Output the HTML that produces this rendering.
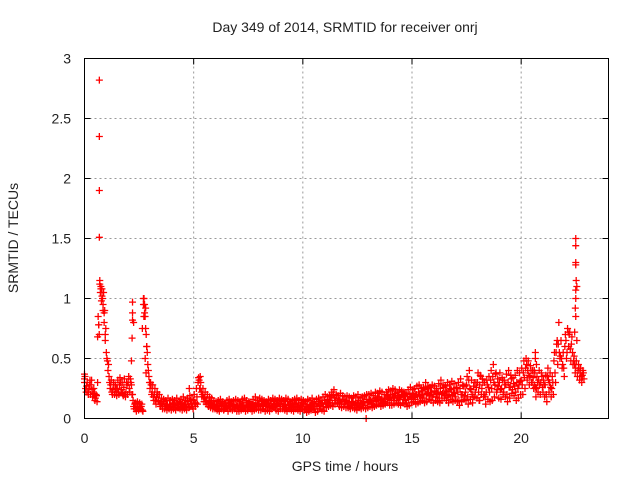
<!DOCTYPE html>
<html><head><meta charset="utf-8"><style>
body{margin:0;background:#fff}
svg text{font-family:"Liberation Sans",sans-serif;font-size:14px;fill:#222}
</style></head><body>
<svg id="chart" width="640" height="480" xmlns="http://www.w3.org/2000/svg">
<text x="345" y="32" text-anchor="middle">Day 349 of 2014, SRMTID for receiver onrj</text>
<text x="345" y="471" text-anchor="middle">GPS time / hours</text>
<text x="18" y="238" text-anchor="middle" transform="rotate(-90 18 238)">SRMTID / TECUs</text>
<g id="grid"></g><g id="ticks"></g><g id="marks"></g>
<rect x="84.5" y="58.5" width="524" height="360" fill="none" stroke="#000" stroke-width="1"/>
</svg>
<script>
const xTicks=[0,5,10,15,20];
const yTicks=[0,0.5,1,1.5,2,2.5,3];
const yTickLabels=["0","0.5","1","1.5","2","2.5","3"];
const valsA=[0.30,0.27,0.25,0.28,0.20,0.17,0.30,1.12,1.08,0.80,
0.55,0.45,0.28,0.24,0.22,0.25,0.28,0.24,0.26,0.22,
0.30,0.33,0.20,0.12,0.09,0.08,0.10,0.95,0.75,0.45,
0.25,0.22,0.20,0.18,0.15,0.13,0.12,0.10,0.11,0.12,
0.10,0.12,0.11,0.09,0.13,0.10,0.12,0.14,0.10,0.12,
0.15,0.13,0.30,0.25,0.20,0.17,0.15,0.14,0.13,0.10,
0.09,0.11,0.10,0.12,0.08,0.10,0.11,0.12,0.10,0.09,
0.10,0.12,0.09,0.11,0.13,0.10,0.08,0.12,0.11,0.10,
0.12,0.14,0.11,0.10,0.13,0.09,0.10,0.12,0.11,0.13,
0.12,0.10,0.11,0.14,0.12,0.09,0.10,0.12,0.13,0.11,
0.10,0.08,0.12,0.09,0.11,0.10,0.12,0.14,0.11,0.13,
0.15,0.12,0.13,0.18,0.20,0.15,0.13,0.16,0.14,0.12,
0.15,0.13,0.11,0.14,0.12,0.13,0.10,0.12,0.14,0.16,
0.14,0.15,0.12,0.17,0.15,0.18,0.16,0.14,0.17,0.19,
0.18,0.20,0.17,0.15,0.19,0.18,0.16,0.15,0.18,0.20,
0.17,0.19,0.20,0.22,0.18,0.20,0.24,0.21,0.19,0.22,
0.20,0.18,0.22,0.25,0.21,0.19,0.23,0.20,0.24,0.22,
0.18,0.22,0.25,0.20,0.19,0.28,0.32,0.24,0.18,0.22,
0.30,0.28,0.25,0.20,0.22,0.26,0.32,0.35,0.28,0.24,
0.30,0.25,0.22,0.28,0.30,0.26,0.24,0.27,0.30,0.28,
0.32,0.38,0.42,0.40,0.35,0.30,0.28,0.25,0.32,0.30,
0.22,0.28,0.35,0.30,0.25,0.48,0.55,0.62,0.52,0.45,
0.60,0.55,0.70,0.62,0.48,0.42,0.40,0.38,0.36];
const valsB=[0.25,0.22,0.32,0.24,0.21,0.19,0.78,1.10,0.95,0.65,
0.48,0.30,0.22,0.28,0.25,0.22,0.30,0.21,0.20,0.28,
0.25,0.28,0.10,0.08,0.12,0.10,0.07,0.88,0.60,0.35,
0.28,0.18,0.15,0.20,0.12,0.10,0.14,0.12,0.09,0.10,
0.13,0.09,0.12,0.14,0.10,0.11,0.09,0.12,0.15,0.10,
0.12,0.18,0.32,0.22,0.18,0.14,0.12,0.15,0.11,0.12,
0.12,0.08,0.13,0.10,0.11,0.09,0.13,0.10,0.12,0.11,
0.08,0.10,0.13,0.09,0.11,0.12,0.10,0.09,0.13,0.12,
0.10,0.11,0.13,0.12,0.09,0.11,0.14,0.10,0.12,0.10,
0.14,0.12,0.09,0.11,0.10,0.13,0.12,0.10,0.09,0.13,
0.12,0.10,0.09,0.11,0.13,0.08,0.10,0.11,0.13,0.10,
0.12,0.16,0.15,0.13,0.17,0.19,0.15,0.12,0.16,0.14,
0.13,0.10,0.14,0.12,0.11,0.15,0.13,0.14,0.11,0.13,
0.16,0.12,0.15,0.14,0.18,0.15,0.13,0.17,0.20,0.16,
0.15,0.17,0.21,0.18,0.16,0.20,0.19,0.13,0.16,0.18,
0.21,0.16,0.18,0.19,0.23,0.17,0.20,0.25,0.22,0.18,
0.23,0.21,0.17,0.20,0.26,0.22,0.18,0.25,0.19,0.21,
0.25,0.15,0.20,0.27,0.22,0.18,0.25,0.20,0.30,0.26,
0.22,0.35,0.30,0.18,0.28,0.22,0.25,0.30,0.38,0.27,
0.24,0.32,0.28,0.20,0.26,0.33,0.29,0.22,0.25,0.31,
0.28,0.34,0.45,0.36,0.40,0.34,0.26,0.30,0.28,0.35,
0.28,0.20,0.32,0.26,0.30,0.38,0.65,0.55,0.50,0.42,
0.65,0.72,0.58,0.55,0.45,1.10,0.42,0.35,0.38];
const valsC=[0.35,0.30,0.28,0.32,0.25,0.20,0.85,1.05,1.00,0.90,
0.50,0.35,0.32,0.30,0.28,0.32,0.34,0.30,0.33,0.30,
0.35,0.30,0.15,0.13,0.14,0.13,0.12,1.00,0.70,0.40,
0.30,0.28,0.25,0.22,0.20,0.17,0.16,0.15,0.17,0.15,
0.16,0.15,0.17,0.14,0.16,0.18,0.15,0.17,0.19,0.16,
0.20,0.25,0.34,0.30,0.25,0.22,0.20,0.18,0.17,0.15,
0.14,0.15,0.16,0.14,0.13,0.15,0.16,0.14,0.15,0.16,
0.15,0.14,0.16,0.17,0.15,0.14,0.13,0.16,0.18,0.15,
0.17,0.16,0.15,0.14,0.16,0.15,0.17,0.16,0.15,0.17,
0.16,0.15,0.17,0.16,0.14,0.15,0.16,0.17,0.15,0.16,
0.15,0.14,0.16,0.15,0.17,0.14,0.16,0.17,0.15,0.18,
0.20,0.18,0.19,0.22,0.24,0.20,0.19,0.21,0.19,0.18,
0.19,0.18,0.17,0.19,0.18,0.20,0.17,0.18,0.19,0.20,
0.20,0.21,0.19,0.22,0.21,0.23,0.22,0.20,0.22,0.24,
0.23,0.25,0.24,0.22,0.24,0.23,0.22,0.21,0.24,0.26,
0.24,0.25,0.27,0.28,0.25,0.26,0.30,0.27,0.26,0.28,
0.27,0.25,0.29,0.32,0.28,0.27,0.30,0.28,0.31,0.29,
0.26,0.30,0.33,0.28,0.27,0.35,0.40,0.32,0.27,0.30,
0.38,0.36,0.33,0.30,0.32,0.35,0.40,0.45,0.37,0.33,
0.38,0.34,0.32,0.37,0.40,0.36,0.34,0.36,0.40,0.38,
0.42,0.48,0.50,0.48,0.44,0.40,0.38,0.35,0.40,0.38,
0.32,0.36,0.42,0.38,0.35,0.55,0.62,0.80,0.65,0.55,
0.70,0.75,0.72,0.68,0.52,0.48,0.45,0.42,0.40];
const valsD=[0.22,0.20,0.20,0.18,0.15,0.14,0.70,0.98,1.05,0.75,
0.40,0.25,0.20,0.20,0.19,0.20,0.22,0.19,0.18,0.20,
0.22,0.20,0.08,0.06,0.07,0.08,0.06,0.85,0.55,0.30,
0.20,0.15,0.12,0.14,0.10,0.08,0.08,0.07,0.08,0.07,
0.08,0.07,0.09,0.08,0.07,0.08,0.07,0.09,0.10,0.08,
0.10,0.12,0.25,0.18,0.14,0.12,0.10,0.09,0.08,0.08,
0.07,0.06,0.08,0.07,0.09,0.06,0.08,0.07,0.08,0.06,
0.06,0.07,0.08,0.06,0.07,0.09,0.06,0.07,0.08,0.07,
0.07,0.08,0.06,0.07,0.06,0.08,0.09,0.07,0.06,0.08,
0.08,0.07,0.06,0.08,0.07,0.06,0.08,0.07,0.06,0.08,
0.07,0.05,0.06,0.07,0.08,0.05,0.06,0.08,0.07,0.06,
0.09,0.10,0.11,0.10,0.12,0.13,0.10,0.09,0.10,0.09,
0.09,0.08,0.09,0.08,0.07,0.09,0.08,0.09,0.08,0.09,
0.10,0.09,0.10,0.11,0.12,0.10,0.11,0.12,0.13,0.11,
0.11,0.12,0.13,0.12,0.11,0.13,0.12,0.10,0.11,0.13,
0.14,0.12,0.13,0.14,0.15,0.13,0.14,0.16,0.15,0.13,
0.15,0.14,0.13,0.15,0.17,0.15,0.13,0.16,0.14,0.15,
0.14,0.11,0.14,0.16,0.15,0.12,0.16,0.13,0.18,0.17,
0.15,0.20,0.18,0.12,0.16,0.14,0.15,0.18,0.22,0.17,
0.16,0.20,0.18,0.14,0.17,0.21,0.19,0.15,0.17,0.20,
0.20,0.25,0.32,0.28,0.30,0.25,0.18,0.22,0.20,0.26,
0.18,0.14,0.22,0.18,0.20,0.30,0.45,0.50,0.42,0.35,
0.50,0.60,0.48,0.45,0.38,0.35,0.32,0.30,0.33];
const extraT=[0.68,0.68,0.68,0.68,0.7,0.65,0.75,0.8,0.85,0.9,0.95,0.6,2.2,2.2,2.2,2.18,2.15,2.25,2.7,2.75,2.8,2.72,2.65,2.85,2.78,2.82,22.5,22.5,22.5,22.5,22.52,22.5,22.5,22.48,22.5,22.45,22.55,20.65,20.65,20.7,20.6,18.1,4.8,5.3,0,0,12.9];
const extraV=[2.82,2.35,1.90,1.51,1.15,0.78,1.08,1.02,0.90,0.88,0.70,0.68,0.97,0.88,0.82,0.67,0.48,0.80,1.00,0.95,0.92,0.85,0.75,0.60,0.50,0.38,1.50,1.44,1.30,1.28,1.15,1.07,1.00,0.92,0.85,0.72,0.65,0.55,0.50,0.45,0.40,0.15,0.25,0.35,0.37,0.33,0.00];
const NS="http://www.w3.org/2000/svg";
const X0=84.5,X1=608.5,Y0=418.5,Y1=58.5,XMAX=24,YMAX=3;
const sx=t=>X0+(t/XMAX)*(X1-X0);
const sy=v=>Y0-(v/YMAX)*(Y0-Y1);
const grid=document.getElementById('grid'),ticks=document.getElementById('ticks'),marks=document.getElementById('marks');
function mk(tag,attrs,parent){const e=document.createElementNS(NS,tag);for(const k in attrs)e.setAttribute(k,attrs[k]);parent.appendChild(e);return e;}
xTicks.forEach(t=>{const x=sx(t);
 if(t>0){const g=mk('line',{x1:x,x2:x,y1:Y0,y2:Y1,stroke:'#999','stroke-dasharray':'2,3'},grid);
 
 }
 mk('line',{x1:x,x2:x,y1:Y0,y2:Y0-6,stroke:'#000'},ticks);
 mk('line',{x1:x,x2:x,y1:Y1,y2:Y1+6,stroke:'#000'},ticks);
 const l=mk('text',{x:x,y:443,'text-anchor':'middle'},ticks);l.textContent=String(t);
 
 
});
yTicks.forEach((v,i)=>{const y=sy(v);
 if(v>0){const g=mk('line',{x1:X0,x2:X1,y1:y,y2:y,stroke:'#999','stroke-dasharray':'2,3'},grid);
 
 }
 mk('line',{x1:X0,x2:X0+6,y1:y,y2:y,stroke:'#000'},ticks);
 mk('line',{x1:X1,x2:X1-6,y1:y,y2:y,stroke:'#000'},ticks);
 const l=mk('text',{x:71,y:y+5,'text-anchor':'end'},ticks);l.textContent=yTickLabels[i];
 
 
});
function cross(t,v){const x=sx(t),y=sy(v);
 const p=mk('path',{d:`M${x-3.5},${y}H${x+3.5}M${x},${y-3.5}V${y+3.5}`,stroke:'#f00','stroke-width':1.3,fill:'none'},marks);
 
 }
valsA.forEach((v,i)=>cross(i*0.1,v));
valsB.forEach((v,i)=>cross(i*0.1+0.05,v));
valsC.forEach((v,i)=>cross(i*0.1+0.025,v));
valsD.forEach((v,i)=>cross(i*0.1+0.075,v));
extraT.forEach((t,i)=>cross(t,extraV[i]));
</script>
</body></html>
